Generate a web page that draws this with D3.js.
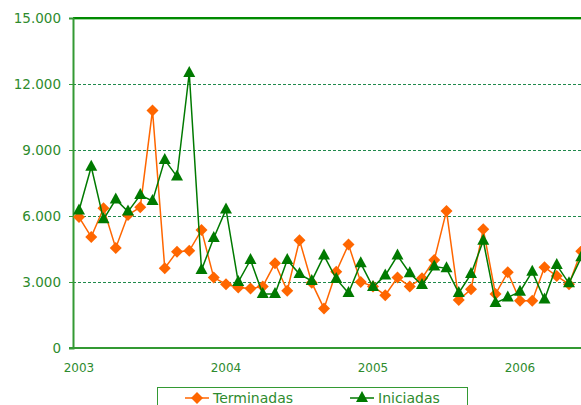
<!DOCTYPE html>
<html><head><meta charset="utf-8">
<script src="https://cdn.jsdelivr.net/npm/d3@7"></script>
<style>body{margin:0;background:#fff;overflow:hidden}svg{display:block}</style>
</head><body>
<svg id="c" width="581" height="405"></svg>
<script>
const months = d3.range(42); // Jan 2003 .. Jun 2006
const yearLabels = ["2003","2004","2005","2006"];
const yTicks = [0,3000,6000,9000,12000,15000];
const terminadas = [5950,5050,6350,4550,6050,6400,10800,3630,4380,4420,
  5360,3200,2900,2750,2700,2800,3850,2600,4900,2970,1800,3470,4700,3000,
  2800,2400,3200,2800,3170,4000,6230,2180,2670,5400,2450,3440,2150,2150,3670,3270,2900,4400];
const iniciadas = [6250,8240,5850,6750,6200,6950,6680,8550,7790,12500,
  3550,5000,6300,3000,4000,2450,2450,4000,3360,3050,4200,3140,2500,3850,
  2770,3300,4200,3400,2860,3700,3620,2500,3360,4880,2050,2300,2560,3470,2200,3770,2940,4120];

const svg = d3.select("#c");
const x = d3.scaleLinear().domain([0,12]).range([79,226]);
const y = d3.scaleLinear().domain([0,15000]).range([348,18]);
const left = 73, right = 600;
const fmt = v => v===0 ? "0" : d3.format(",")(v).replace(/,/g,".");

// grid
svg.append("g").selectAll("line").data(yTicks.filter(t=>t>0&&t<15000)).join("line")
  .attr("x1",left).attr("x2",right).attr("y1",d=>y(d)+0.5).attr("y2",d=>y(d)+0.5)
  .attr("stroke","#1f8a4c").attr("stroke-width",1).attr("stroke-dasharray","3,2");

// top border
svg.append("line").attr("x1",left).attr("x2",right).attr("y1",y(15000)).attr("y2",y(15000))
  .attr("stroke","#008a00").attr("stroke-width",2);
svg.append("line").attr("x1",left).attr("x2",right).attr("y1",y(15000)+1.5).attr("y2",y(15000)+1.5)
  .attr("stroke","#9fd69f").attr("stroke-width",1);

// y axis
const yAxis = d3.axisLeft(y).tickValues(yTicks).tickFormat(fmt).tickSize(4).tickPadding(8);
const ga = svg.append("g").attr("transform",`translate(${left},0)`).call(yAxis);
ga.select(".domain").attr("stroke","#339933").attr("stroke-width",2);
ga.selectAll(".tick line").attr("stroke","#339933");
ga.selectAll("text").attr("fill","#2e8b2e").style("font-family","DejaVu Sans").style("font-size","13.5px");

// x axis
svg.append("line").attr("x1",left-4).attr("x2",right).attr("y1",348).attr("y2",348)
  .attr("stroke","#339933").attr("stroke-width",2);
svg.append("g").selectAll("text").data(yearLabels).join("text")
  .attr("x",(d,i)=>x(i*12)).attr("y",372).attr("text-anchor","middle")
  .attr("fill","#2e8b2e").style("font-family","DejaVu Sans").style("font-size","12px").text(d=>d);

const line = d3.line().x((d,i)=>x(i)).y(d=>y(d));
function series(data, color, shape){
  svg.append("path").datum(data).attr("d",line).attr("fill","none")
    .attr("stroke",color).attr("stroke-width",1.5);
  svg.append("g").selectAll("path").data(data).join("path")
    .attr("transform",(d,i)=>`translate(${x(i)},${y(d)})`)
    .attr("d",shape).attr("fill",color);
}
const diamond = "M0,-6L6,0L0,6L-6,0Z";
const tri = "M0,-7L6,4L-6,4Z";
series(terminadas,"#ff6600",diamond);
series(iniciadas,"#007a00",tri);

// legend
const lg = svg.append("g");
lg.append("rect").attr("x",157.5).attr("y",387.5).attr("width",310).attr("height",30)
  .attr("fill","#fff").attr("stroke","#339933").attr("stroke-width",1);
const items = [{n:"Terminadas",c:"#ff6600",s:diamond,x:185},{n:"Iniciadas",c:"#007a00",s:tri,x:350}];
items.forEach(it=>{
  lg.append("line").attr("x1",it.x).attr("x2",it.x+24).attr("y1",398).attr("y2",398)
    .attr("stroke",it.c).attr("stroke-width",1.5);
  lg.append("path").attr("d",it.s).attr("transform",`translate(${it.x+12},398)`).attr("fill",it.c);
  lg.append("text").attr("x",it.x+28).attr("y",403).attr("fill","#2e8b2e")
    .style("font-family","DejaVu Sans").style("font-size","14px").text(it.n);
});
</script>
</body></html>
